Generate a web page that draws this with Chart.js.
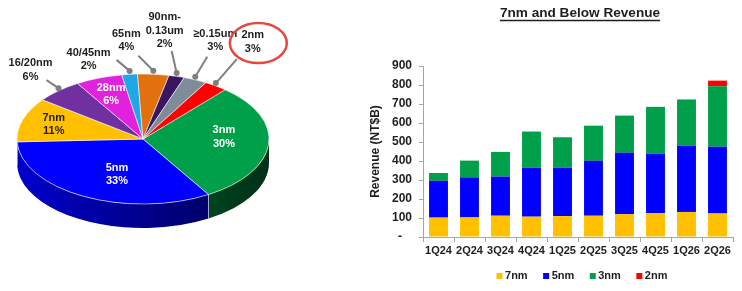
<!DOCTYPE html>
<html><head><meta charset="utf-8">
<script src="https://cdn.jsdelivr.net/npm/chart.js@4.4.1/dist/chart.umd.min.js"></script>
<style>
html,body{margin:0;padding:0;background:#fff;}
body{width:742px;height:291px;position:relative;overflow:hidden;}
#pieWrap{position:absolute;left:0;top:0;width:360px;height:291px;}
#barWrap{position:absolute;left:360px;top:0;width:382px;height:291px;}
canvas{display:block;}
</style></head><body>
<div id="pieWrap"><canvas id="pie" width="360" height="291"></canvas></div>
<div id="barWrap"><canvas id="bar" width="382" height="291"></canvas></div>
<script>
// ---------------- DATA ----------------
const nodeLabels = ['3nm','5nm','7nm','16/20nm','28nm','40/45nm','65nm','90nm-0.13um','≥0.15um','2nm'];
const nodeShares = [30, 33, 11, 6, 6, 2, 4, 2, 3, 3];

const quarters = ['1Q24','2Q24','3Q24','4Q24','1Q25','2Q25','3Q25','4Q25','1Q26','2Q26'];
const rev7nm = [102, 103, 112, 107, 110, 112, 120, 126, 132, 124];
const rev5nm = [194, 211, 206, 257, 254, 289, 323, 311, 350, 351];
const rev3nm = [ 41,  88, 130, 191, 161, 185, 196, 248, 242, 318];
const rev2nm = [  0,   0,   0,   0,   0,   0,   0,   0,   0,  30];
const revTicks = [0, 100, 200, 300, 400, 500, 600, 700, 800, 900];

// ---------------- STYLE ----------------
const FONT = "'Liberation Sans', Arial, Helvetica, sans-serif";
const TEXT = '#1e1e1e';
const nodeColors = ['#00A04A','#0000FF','#FFC000','#7030A0','#E021DE','#1EA9E6','#E2700F','#3B1560','#7E8B99','#FF0000'];
const seriesColors = {'7nm':'#FFC000','5nm':'#0000FF','3nm':'#00A04A','2nm':'#FF0000'};
const TILT = 65/126;      // vertical squash of the pie
const DEPTH = 24;         // thickness of the 3D pie
// inside labels: index -> [dx, dy] tweak from 0.7 radius point
const insideLabels = {0:{dx:-7,dy:-6,color:'#fff'},1:{dx:15.5,dy:-4.6,color:'#fff'},2:{dx:-5,dy:-1,color:TEXT},4:{dx:-1,dy:-2,color:'#fff'}};
// callouts: index -> text offset (first line centre) and pointer start offset, relative to rim dot
const callouts = {
  3:{tx:-28,ty:-25,px:-12,py:-8},
  5:{tx:-41,ty:-18,px:-13,py:-11},
  6:{tx:-27,ty:-37,px:-15,py:-15},
  7:{tx:-12,ty:-56,px:-5,py:-22},
  8:{tx:20,ty:-43,px:12,py:-20},
  9:{tx:37,ty:-48,px:21,py:-24,ring:{dx:5.5,dy:8,rx:28.5,ry:20}}
};

function shade(hex, f){
  const n = parseInt(hex.slice(1),16);
  const r = Math.round(((n>>16)&255)*f), g = Math.round(((n>>8)&255)*f), b = Math.round((n&255)*f);
  return `rgb(${r},${g},${b})`;
}
function lineSplit(label){
  return label === '90nm-0.13um' ? ['90nm-','0.13um'] : [label];
}

// ---------------- PIE ----------------
const pie3d = {
  id:'pie3d',
  beforeDatasetsDraw(chart){
    const meta = chart.getDatasetMeta(0);
    const a0 = meta.data[0];
    const cx = a0.x, cy = a0.y, rx = a0.outerRadius, ry = rx*TILT;
    const ctx = chart.ctx;
    ctx.save();
    meta.data.forEach((arc, i) => {
      for (let k = -1; k <= 1; k++) {
        const s = Math.max(arc.startAngle + 2*Math.PI*k, 0);
        const e = Math.min(arc.endAngle + 2*Math.PI*k, Math.PI);
        if (e <= s) continue;
        const g = ctx.createLinearGradient(cx - rx, 0, cx + rx, 0);
        g.addColorStop(0, shade(nodeColors[i], 0.8));
        g.addColorStop(1, shade(nodeColors[i], 0.3));
        ctx.beginPath();
        ctx.ellipse(cx, cy, rx, ry, 0, s, e, false);
        ctx.ellipse(cx, cy + DEPTH, rx, ry, 0, e, s, true);
        ctx.closePath();
        ctx.fillStyle = g;
        ctx.fill();
        ctx.strokeStyle = 'rgba(255,255,255,0.55)';
        ctx.lineWidth = 0.8;
        [s, e].forEach(t => {
          if (t > 0.001 && t < Math.PI - 0.001) {
            const x = cx + rx*Math.cos(t), y = cy + ry*Math.sin(t);
            ctx.beginPath(); ctx.moveTo(x, y); ctx.lineTo(x, y + DEPTH); ctx.stroke();
          }
        });
      }
    });
    ctx.restore();
    ctx.save();
    ctx.translate(cx, cy);
    ctx.scale(1, TILT);
    ctx.translate(-cx, -cy);
  },
  afterDatasetsDraw(chart){
    chart.ctx.restore();
  },
  afterDraw(chart){
    const meta = chart.getDatasetMeta(0);
    const a0 = meta.data[0];
    const cx = a0.x, cy = a0.y, rx = a0.outerRadius, ry = rx*TILT;
    const ctx = chart.ctx;
    ctx.save();
    ctx.font = `bold 11px ${FONT}`;
    ctx.textAlign = 'center';
    ctx.textBaseline = 'middle';
    const LH = 13.5;
    meta.data.forEach((arc, i) => {
      const mid = (arc.startAngle + arc.endAngle)/2;
      const lines = lineSplit(nodeLabels[i]).concat([nodeShares[i] + '%']);
      if (insideLabels[i]) {
        const L = insideLabels[i];
        const x = cx + 0.7*rx*Math.cos(mid) + L.dx;
        const y = cy + 0.7*ry*Math.sin(mid) + L.dy;
        ctx.fillStyle = L.color;
        lines.forEach((t, j) => ctx.fillText(t, x, y + (j - (lines.length-1)/2)*LH));
      } else if (callouts[i]) {
        const C = callouts[i];
        const dx = cx + rx*Math.cos(mid);
        const dy = cy + (ry + 3.5)*Math.sin(mid);
        ctx.strokeStyle = '#7f7f7f';
        ctx.fillStyle = '#7f7f7f';
        ctx.lineWidth = 2;
        ctx.beginPath(); ctx.moveTo(dx + C.px, dy + C.py); ctx.lineTo(dx, dy); ctx.stroke();
        ctx.beginPath(); ctx.arc(dx, dy, 3, 0, 2*Math.PI); ctx.fill();
        ctx.fillStyle = TEXT;
        const tx = dx + C.tx, ty = dy + C.ty;
        lines.forEach((t, j) => ctx.fillText(t, tx, ty + j*LH));
        if (C.ring) {
          ctx.strokeStyle = '#E8463E';
          ctx.lineWidth = 2.5;
          ctx.beginPath();
          ctx.ellipse(tx + C.ring.dx, ty + C.ring.dy, C.ring.rx, C.ring.ry, 0, 0, 2*Math.PI);
          ctx.stroke();
        }
      }
    });
    ctx.restore();
  }
};

new Chart(document.getElementById('pie'), {
  type: 'pie',
  data: {
    labels: nodeLabels,
    datasets: [{
      data: nodeShares,
      backgroundColor: nodeColors,
      borderColor: 'rgba(255,255,255,0.75)',
      borderWidth: 1,
      clip: false
    }]
  },
  options: {
    responsive: false,
    animation: false,
    events: [],
    devicePixelRatio: 1,
    radius: 126,
    rotation: 40.7,
    layout: { padding: { left: 0, top: 0, right: 74, bottom: 13 } },
    plugins: { legend: { display: false }, tooltip: { enabled: false } }
  },
  plugins: [pie3d]
});

// ---------------- BARS ----------------
const barDecor = {
  id:'barDecor',
  afterDraw(chart){
    const ctx = chart.ctx;
    const ca = chart.chartArea;
    ctx.save();
    // title
    const title = '7nm and Below Revenue';
    ctx.font = `bold 13.6px ${FONT}`;
    ctx.fillStyle = TEXT;
    ctx.textAlign = 'center';
    ctx.textBaseline = 'middle';
    const tcx = (ca.left + ca.right)/2 + 2;
    ctx.fillText(title, tcx, 13.5);
    const w = ctx.measureText(title).width;
    ctx.strokeStyle = TEXT;
    ctx.lineWidth = 1.3;
    ctx.beginPath(); ctx.moveTo(tcx - w/2, 20.5); ctx.lineTo(tcx + w/2, 20.5); ctx.stroke();
    // legend
    ctx.font = `bold 11px ${FONT}`;
    ctx.textAlign = 'left';
    const items = chart.data.datasets.map(d => d.label);
    const box = 6, gapBox = 2.5, gapItem = 15.5;
    const widths = items.map(t => box + gapBox + ctx.measureText(t).width);
    const total = widths.reduce((a,b)=>a+b,0) + gapItem*(items.length-1);
    let x = (ca.left + ca.right)/2 + 4 - total/2;
    const ly = 276;
    items.forEach((t, i) => {
      ctx.fillStyle = chart.data.datasets[i].backgroundColor;
      ctx.fillRect(x, ly - box/2, box, box);
      ctx.fillStyle = TEXT;
      ctx.fillText(t, x + box + gapBox, ly);
      x += widths[i] + gapItem;
    });
    ctx.restore();
  }
};

const axisGray = '#A6A6A6';
new Chart(document.getElementById('bar'), {
  type: 'bar',
  data: {
    labels: quarters,
    datasets: [
      { label: '7nm', data: rev7nm, backgroundColor: seriesColors['7nm'] },
      { label: '5nm', data: rev5nm, backgroundColor: seriesColors['5nm'] },
      { label: '3nm', data: rev3nm, backgroundColor: seriesColors['3nm'] },
      { label: '2nm', data: rev2nm, backgroundColor: seriesColors['2nm'] }
    ]
  },
  options: {
    responsive: false,
    animation: false,
    events: [],
    devicePixelRatio: 1,
    layout: { padding: { left: 0, right: 9, top: 66, bottom: 0 } },
    datasets: { bar: { categoryPercentage: 1, barPercentage: 0.61, borderWidth: 0 } },
    scales: {
      x: {
        stacked: true,
        offset: true,
        grid: { offset: true, drawOnChartArea: false, drawTicks: true, tickLength: 5, color: axisGray },
        border: { color: axisGray },
        ticks: { font: { family: FONT, size: 11, weight: 'bold' }, color: TEXT, padding: 2, maxRotation: 0, autoSkip: false },
        afterFit(s){ s.height = 54; }
      },
      y: {
        stacked: true,
        min: 0, max: 900,
        afterBuildTicks(s){ s.ticks = revTicks.map(v => ({ value: v })); },
        grid: { drawOnChartArea: false, drawTicks: true, tickLength: 4, color: axisGray },
        border: { color: axisGray },
        ticks: { callback: v => v === 0 ? '-   ' : String(v), font: { family: FONT, size: 12, weight: 'bold' }, color: TEXT, padding: 7 },
        title: { display: true, text: 'Revenue (NT$B)', font: { family: FONT, size: 12, weight: 'bold' }, color: TEXT, padding: { top: 8, bottom: 0 } },
        afterFit(s){ s.width = 63; }
      }
    },
    plugins: { legend: { display: false }, tooltip: { enabled: false } }
  },
  plugins: [barDecor]
});
</script>
</body></html>
